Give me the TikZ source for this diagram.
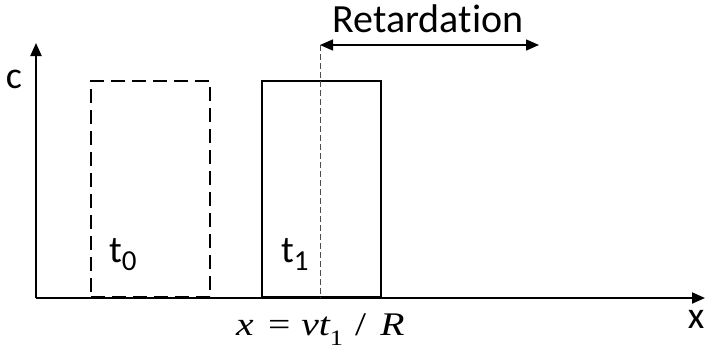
\documentclass[tikz,border=0pt]{standalone}
\usepackage{fontspec}
\setmainfont[Ligatures=NoCommon]{Carlito}
\newfontfamily\tnr{Liberation Serif}
\usetikzlibrary{positioning, arrows.meta}

\newcommand{\lowsub}[1]{\raisebox{-8pt}{\fontsize{29}{29}\selectfont #1}}

\begin{document}
\begin{tikzpicture}[
    x=1pt, y=-1pt,
    >={Triangle[length=13pt, width=11pt]},
    % axes
    axis/.style={->, line width=2pt},
    % pulse at t0 (dashed) and at t1 (solid)
    pulse/.style={draw, line width=2pt, minimum width=119pt, minimum height=216pt,
                  inner sep=0pt, anchor=south west},
    oldpulse/.style={pulse, dash pattern=on 14pt off 7pt},
    % thin front marker
    marker/.style={gray!60!black, line width=0.9pt, dash pattern=on 6pt off 3pt},
    % retardation span
    span/.style={<->, line width=1.5pt},
    lab/.style={font=\fontsize{38}{46}\selectfont, inner sep=0pt},
]
\useasboundingbox (0,0) rectangle (706,349);

% --- axes ---
\coordinate (origin) at (36,298);
\coordinate (ytop) at (36,43);
\coordinate (xend) at (705,298);
\draw[axis] (origin) -- (ytop);
\draw[axis] (origin) -- (xend);
\node[lab, anchor=base] (clab) at (14,88) {c};
\node[lab, anchor=base] (xlab) at (696,328) {x};

% --- pulses ---
\node[oldpulse] (pulse0) at (90,298) {};
\node[pulse] (pulse1) at (261,298) {};
\node[lab, anchor=base west] (t0lab) at (109,262) {t\lowsub{0}};
\node[lab, anchor=base west] (t1lab) at (281,262) {t\lowsub{1}};

% --- front position and retardation ---
\coordinate (front) at (320,45);
\coordinate (frontbase) at (320,298);
\coordinate (retend) at (539,45);
\draw[marker] (front) -- (frontbase);
\draw[span] (front) -- (retend);
\node[lab, font=\fontsize{40}{48}\selectfont, anchor=base] (retlab) at (428,32) {Retardation};

% --- position formula ---
\node[font=\fontsize{33}{40}\selectfont\tnr, inner sep=0pt, anchor=base west] (poslab) at (236,335)
    {\scalebox{1.2}[1]{\itshape x\/\upshape\hspace{12pt}=\hspace{9pt}\itshape vt\upshape\raisebox{-10pt}{\fontsize{22}{22}\selectfont 1}\hspace{10pt}/\hspace{12pt}\itshape R}};
\end{tikzpicture}
\end{document}
